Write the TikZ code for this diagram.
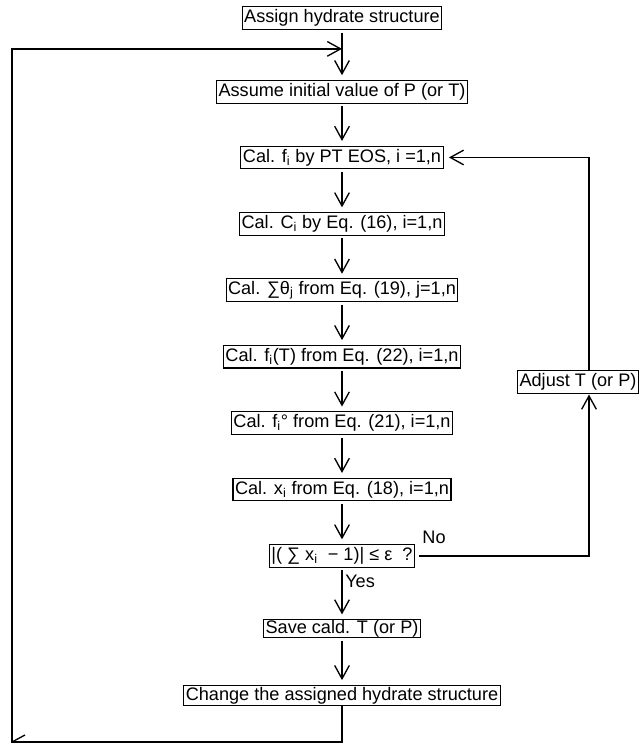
\documentclass[tikz,border=0pt]{standalone}
\usepackage{fontspec}
\setmainfont{Liberation Sans}
\usetikzlibrary{arrows.meta,positioning,calc}
\newcommand{\sbs}[1]{\textsubscript{#1}}

\begin{document}
\begin{tikzpicture}[
        x=0.75pt, y=-0.75pt,
        font=\fontsize{13.6}{16}\selectfont,
        node distance=32pt,
        stepbox/.style={rectangle, draw, line width=0.8pt,
          inner xsep=1.5pt, inner ysep=1pt, minimum height=17pt},
        flow/.style={line width=1pt,
          -{Straight Barb[length=10pt,width=11pt,line width=1pt]},
          shorten >=3.5pt, shorten <=2pt}
      ]
        \useasboundingbox (0,0) rectangle (639,743);
        \node[stepbox] (start) at (342,18) {Assign hydrate structure};
        \node[stepbox, below=37.5pt of start] (assume) {Assume initial value of P (or T)};
        \node[stepbox, below=31.5pt of assume] (fcal) {Cal. f\sbs{i} by PT EOS, i =1,n};
        \node[stepbox, below=of fcal] (ccal) {Cal. C\sbs{i} by Eq. (16), i=1,n};
        \node[stepbox, below=of ccal] (thcal) {Cal. ∑θ\sbs{j} from Eq. (19), j=1,n};
        \node[stepbox, below=of thcal] (ftcal) {Cal. f\sbs{i}(T) from Eq. (22), i=1,n};
        \node[stepbox, below=of ftcal] (focal) {Cal. f\sbs{i}° from Eq. (21), i=1,n};
        \node[stepbox, below=of focal] (xcal) {Cal. x\sbs{i} from Eq. (18), i=1,n};
        \node[stepbox, below=of xcal] (dec) {|( ∑ x\sbs{i} \ − 1)| ≤ ε \ ?};
        \node[stepbox, below=38.5pt of dec, inner ysep=0pt, minimum height=13.5pt] (save) {Save cald. T (or P)};
        \node[stepbox, below=35pt of save, inner ysep=0pt, minimum height=15pt] (chg) {Change the assigned hydrate structure};
        \node[stepbox] (adj) at (578,382) {Adjust T (or P)};
        \node (no) at (434,537) {No};
        \node[anchor=west, inner sep=0pt] (yes) at (345,581) {Yes};
        % main column
        \draw[flow] (start) -- (assume);
        \draw[flow] (assume) -- (fcal);
        \draw[flow] (fcal) -- (ccal);
        \draw[flow] (ccal) -- (thcal);
        \draw[flow] (thcal) -- (ftcal);
        \draw[flow] (ftcal) -- (focal);
        \draw[flow] (focal) -- (xcal);
        \draw[flow] (xcal) -- (dec);
        \draw[flow] (dec) -- (save);
        \draw[flow] (save) -- (chg);
        % loop back to the start
        \coordinate (join) at ($(start.south)!0.38!(assume.north)$);
        \coordinate (lcorner) at (12,742);
        \draw[flow, shorten <=0pt, shorten >=0pt] (chg.south) |- (lcorner) |- (join);
        \draw[line width=1pt] (lcorner) -- ++(13,-7);
        % iteration on T (or P)
        \coordinate (rx) at ([xshift=8.25pt]adj.south);
        \draw[flow, shorten <=3pt, shorten >=0.5pt] (dec.east) -| (rx);
        \draw[flow, shorten <=0pt, shorten >=4pt] (adj.north -| rx) |- (fcal.east);
      \end{tikzpicture}
\end{document}
